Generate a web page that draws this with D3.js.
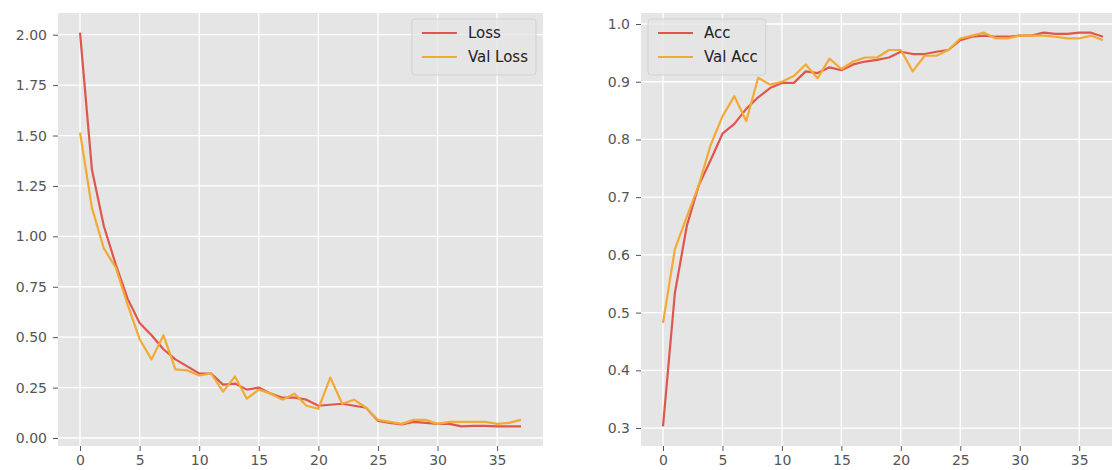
<!DOCTYPE html>
<html>
<head>
<meta charset="utf-8">
<script src="https://cdnjs.cloudflare.com/ajax/libs/d3/7.8.5/d3.min.js"></script>
<style>
  body { margin: 0; background: #fff; }
  svg { display: block; font-family: 'DejaVu Sans', sans-serif; }
</style>
</head>
<body>
<script>
// epochs 0..37, values
const epochs = d3.range(38)

const loss = [2.01, 1.33, 1.05, 0.86, 0.69, 0.57, 0.51, 0.44, 0.39, 0.355,
  0.32, 0.32, 0.265, 0.27, 0.24, 0.25, 0.22, 0.2, 0.2, 0.19,
  0.16, 0.165, 0.17, 0.16, 0.15, 0.085, 0.075, 0.068, 0.08, 0.075,
  0.07, 0.07, 0.058, 0.06, 0.06, 0.058, 0.058, 0.058]
const valLoss = [1.515, 1.14, 0.94, 0.845, 0.66, 0.49, 0.39, 0.51, 0.34, 0.335,
  0.31, 0.32, 0.23, 0.305, 0.195, 0.24, 0.22, 0.19, 0.22, 0.16,
  0.145, 0.3, 0.17, 0.19, 0.15, 0.09, 0.08, 0.07, 0.09, 0.09,
  0.07, 0.08, 0.08, 0.08, 0.08, 0.07, 0.075, 0.09]

const acc = [0.303, 0.534, 0.65, 0.72, 0.764, 0.81, 0.827, 0.853, 0.873, 0.889,
  0.898, 0.898, 0.918, 0.915, 0.925, 0.92, 0.93, 0.935, 0.938, 0.942,
  0.952, 0.948, 0.948, 0.952, 0.955, 0.972, 0.978, 0.98, 0.978, 0.978,
  0.98, 0.98, 0.985, 0.983, 0.983, 0.985, 0.985, 0.978]
const valAcc = [0.482, 0.61, 0.666, 0.72, 0.79, 0.84, 0.875, 0.832, 0.907, 0.895,
  0.9, 0.91, 0.93, 0.906, 0.94, 0.922, 0.935, 0.942, 0.942, 0.955,
  0.955, 0.918, 0.945, 0.945, 0.955, 0.975, 0.98, 0.985, 0.975, 0.975,
  0.98, 0.98, 0.98, 0.978, 0.975, 0.975, 0.98, 0.972]

const xTicks = [0, 5, 10, 15, 20, 25, 30, 35]
const lossTicks = [0, 0.25, 0.5, 0.75, 1.0, 1.25, 1.5, 1.75, 2.0]
const accTicks = [0.3, 0.4, 0.5, 0.6, 0.7, 0.8, 0.9, 1.0]

const redColor = '#e0564c'
const orangeColor = '#f2aa35'

var width = 1112
var height = 470

var svg = d3.select('body').append('svg')
    .attr('width', width)
    .attr('height', height)

// matplotlib style 5% margins
function padded (arrays) {
  var lo = d3.min(arrays, a => d3.min(a))
  var hi = d3.max(arrays, a => d3.max(a))
  var m = (hi - lo) * 0.05
  return [lo - m, hi + m]
}

function drawPanel (opts) {
  var x = d3.scaleLinear()
    .domain(padded([epochs]))
    .range([opts.left, opts.right])
  var y = d3.scaleLinear()
    .domain(padded(opts.series.map(s => s.values)))
    .range([446, 13])

  var g = svg.append('g')

  g.append('rect')
    .attr('x', opts.left)
    .attr('y', 13)
    .attr('width', opts.right - opts.left)
    .attr('height', 446 - 13)
    .attr('fill', '#e5e5e5')

  // grid
  g.selectAll('line.vgrid')
    .data(xTicks).enter()
    .append('line')
    .attr('x1', d => x(d)).attr('x2', d => x(d))
    .attr('y1', 13).attr('y2', 446)
    .attr('stroke', '#fff')
    .attr('stroke-width', 1.3)
  g.selectAll('line.hgrid')
    .data(opts.yTicks).enter()
    .append('line')
    .attr('x1', opts.left).attr('x2', opts.right)
    .attr('y1', d => y(d)).attr('y2', d => y(d))
    .attr('stroke', '#fff')
    .attr('stroke-width', 1.3)

  var xAxis = g.append('g')
    .attr('transform', 'translate(0,446)')
    .call(d3.axisBottom(x).tickValues(xTicks).tickSize(5).tickPadding(4).tickFormat(d3.format('d')))
  var yAxis = g.append('g')
    .attr('transform', 'translate(' + opts.left + ',0)')
    .call(d3.axisLeft(y).tickValues(opts.yTicks).tickSize(5).tickPadding(6).tickFormat(d3.format(opts.fmt)))

  ;[xAxis, yAxis].forEach(a => {
    a.select('.domain').remove()
    a.selectAll('.tick line').attr('stroke', '#555').attr('stroke-width', 1)
    a.selectAll('.tick text')
      .attr('fill', '#555')
      .style('font-size', '14px')
      .style('font-family', "'DejaVu Sans', sans-serif")
  })

  var line = d3.line()
    .x((d, i) => x(epochs[i]))
    .y(d => y(d))

  opts.series.forEach(s => {
    g.append('path')
      .datum(s.values)
      .attr('d', line)
      .attr('fill', 'none')
      .attr('stroke', s.color)
      .attr('stroke-width', 2.2)
      .attr('stroke-linejoin', 'round')
  })

  // legend
  var leg = g.append('g')
  var box = leg.append('rect')
    .attr('rx', 3)
    .attr('fill', '#e5e5e5')
    .attr('fill-opacity', 0.8)
    .attr('stroke', '#cccccc')
    .attr('stroke-opacity', 0.8)
  var items = leg.selectAll('g.item')
    .data(opts.series).enter()
    .append('g')
    .attr('transform', (d, i) => 'translate(0,' + (i * 24) + ')')
  items.append('line')
    .attr('x1', 10).attr('x2', 45)
    .attr('y1', 0).attr('y2', 0)
    .attr('stroke', d => d.color)
    .attr('stroke-width', 2.2)
  var labels = items.append('text')
    .attr('x', 56)
    .attr('y', 0)
    .attr('dy', '0.35em')
    .attr('fill', '#222')
    .style('font-size', '15px')
    .text(d => d.name)
  var textW = d3.max(labels.nodes(), n => n.getComputedTextLength())
  var boxW = 56 + textW + 8
  box.attr('x', 0).attr('y', -14)
    .attr('width', boxW)
    .attr('height', 56)
  var legX = opts.legend === 'right' ? opts.right - 7 - boxW : opts.left + 7
  leg.attr('transform', 'translate(' + legX + ',' + 33 + ')')
}

drawPanel({
  left: 58,
  right: 543,
  yTicks: lossTicks,
  fmt: '.2f',
  legend: 'right',
  series: [
    {name: 'Loss', values: loss, color: redColor},
    {name: 'Val Loss', values: valLoss, color: orangeColor}
  ]
})

drawPanel({
  left: 641,
  right: 1125,
  yTicks: accTicks,
  fmt: '.1f',
  legend: 'left',
  series: [
    {name: 'Acc', values: acc, color: redColor},
    {name: 'Val Acc', values: valAcc, color: orangeColor}
  ]
})
</script>
</body>
</html>
